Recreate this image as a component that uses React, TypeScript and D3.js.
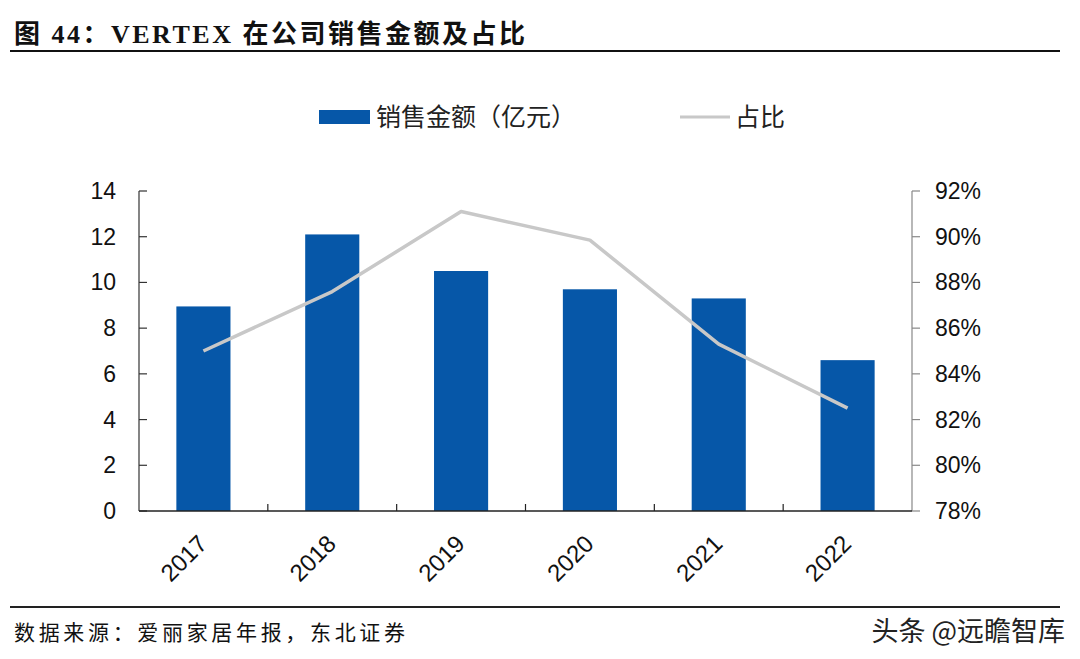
import * as d3 from 'd3';

const years = ['2017', '2018', '2019', '2020', '2021', '2022'];
const sales = [8.95, 12.1, 10.5, 9.7, 9.3, 6.6];
const share = [85.0, 87.6, 91.1, 89.85, 85.3, 82.5];
const leftTicks = [0, 2, 4, 6, 8, 10, 12, 14];
const rightTicks = [78, 80, 82, 84, 86, 88, 90, 92];

const W = 1080;
const H = 659;
const left = 139;
const right = 912;
const top = 191;
const bottom = 511;

const sans = "Arial, 'Liberation Sans', 'Noto Sans CJK SC', sans-serif";
const cjk = "'Noto Sans CJK SC', sans-serif";

const App = () => {
  const x = d3.scaleBand<string>().domain(years).range([left, right]).paddingInner(0.58).paddingOuter(0.29);
  const y = d3.scaleLinear().domain([0, 14]).range([bottom, top]);
  const y2 = d3.scaleLinear().domain([78, 92]).range([bottom, top]);

  const line = d3
    .line<number>()
    .x((_, i) => (x(years[i]) as number) + x.bandwidth() / 2)
    .y((d) => y2(d));

  const step = x.step();

  return (
    <svg width={W} height={H} style={{ position: 'absolute', left: 0, top: 0, background: '#fff' }}>
      {/* title */}
      <text x={14} y={43} textLength={511} lengthAdjust="spacing" fontFamily={"'Liberation Serif', 'Noto Sans CJK SC', serif"} fontWeight="bold" fontSize={26} fill="#111">
        图 44：VERTEX 在公司销售金额及占比
      </text>
      <line x1={10} x2={1060} y1={51} y2={51} stroke="#111" strokeWidth={2} />

      {/* legend */}
      <rect x={319} y={110} width={51} height={14} fill="#0657a8" />
      <text x={376} y={126} fontFamily={cjk} fontSize={25} fill="#222">
        销售金额（亿元）
      </text>
      <line x1={680} x2={730} y1={117} y2={117} stroke="#c8c8c8" strokeWidth={3} />
      <text x={735} y={126} fontFamily={cjk} fontSize={25} fill="#222">
        占比
      </text>

      {/* bars */}
      {sales.map((v, i) => (
        <rect key={years[i]} x={x(years[i])} y={y(v)} width={x.bandwidth()} height={bottom - y(v)} fill="#0657a8" />
      ))}

      {/* share line */}
      <path d={line(share) as string} fill="none" stroke="#c8c8c8" strokeWidth={3.5} strokeLinejoin="round" />

      {/* left axis */}
      <line x1={left} x2={left} y1={top} y2={bottom} stroke="#333" strokeWidth={1.2} />
      {leftTicks.map((t) => (
        <g key={t}>
          <line x1={left} x2={left + 8} y1={y(t)} y2={y(t)} stroke="#333" strokeWidth={1.2} />
          <text x={116} y={y(t)} dy="0.35em" textAnchor="end" fontFamily={sans} fontSize={23} fill="#111">
            {t}
          </text>
        </g>
      ))}

      {/* right axis */}
      <line x1={right} x2={right} y1={top} y2={bottom} stroke="#888" strokeWidth={1.2} />
      {rightTicks.map((t) => (
        <g key={t}>
          <line x1={right} x2={right + 8} y1={y2(t)} y2={y2(t)} stroke="#888" strokeWidth={1.2} />
          <text x={935} y={y2(t)} dy="0.35em" fontFamily={sans} fontSize={23} fill="#111">
            {t}%
          </text>
        </g>
      ))}

      {/* bottom axis */}
      <line x1={left} x2={right} y1={bottom} y2={bottom} stroke="#222" strokeWidth={1.5} />
      {years.slice(1).map((yr) => (
        <line key={yr} x1={(x(yr) as number) - (step - x.bandwidth()) / 2} x2={(x(yr) as number) - (step - x.bandwidth()) / 2} y1={bottom} y2={bottom - 7} stroke="#222" strokeWidth={1.2} />
      ))}
      {years.map((yr) => {
        const cx = (x(yr) as number) + x.bandwidth() / 2 - 7;
        const cy = 533;
        return (
          <text key={yr} x={cx} y={cy} dy="0.72em" textAnchor="end" transform={`rotate(-45 ${cx} ${cy})`} fontFamily={sans} fontSize={24} fill="#111">
            {yr}
          </text>
        );
      })}

      {/* footer */}
      <line x1={10} x2={1060} y1={607} y2={607} stroke="#222" strokeWidth={2} />
      <text x={14} y={640} textLength={391} lengthAdjust="spacing" fontFamily={cjk} fontSize={21} fill="#111">
        数据来源：爱丽家居年报，东北证券
      </text>
      <text x={1065} y={641} textAnchor="end" fontFamily={cjk} fontSize={27} fill="#222">
        头条 @远瞻智库
      </text>
    </svg>
  );
};

export default App;
